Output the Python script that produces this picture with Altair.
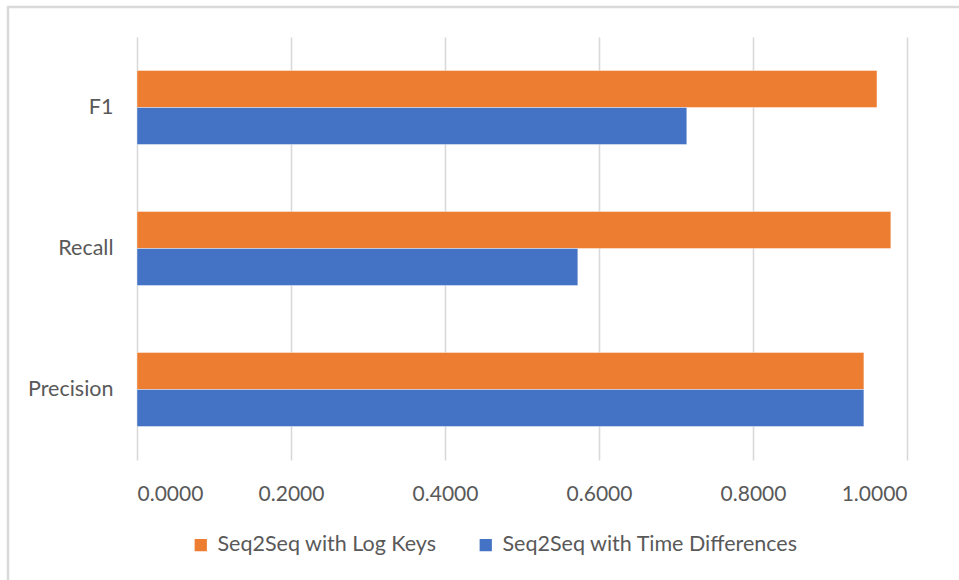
import altair as alt
import pandas as pd

categories = ["F1", "Recall", "Precision"]
series = ["Seq2Seq with Log Keys", "Seq2Seq with Time Differences"]
log_keys = [0.961, 0.979, 0.944]
time_diff = [0.714, 0.5725, 0.944]
colors = ["#ED7D31", "#4472C4"]
x_ticks = [0.0, 0.2, 0.4, 0.6, 0.8, 1.0]

rows = []
for c, a, b in zip(categories, log_keys, time_diff):
    rows.append({"metric": c, "series": series[0], "value": a})
    rows.append({"metric": c, "series": series[1], "value": b})
df = pd.DataFrame(rows)

W, H = 770, 423
FONT = "Lato"

bars = alt.Chart(df).mark_bar(
    stroke="white", strokeWidth=0.8, strokeOpacity=0.5
).encode(
    x=alt.X("value:Q", scale=alt.Scale(domain=[0, 1], nice=False),
            axis=alt.Axis(values=x_ticks, format=".4f", title=None, domain=False,
                          ticks=False, grid=True, gridColor="#d9d9d9", gridWidth=1.6,
                          labelFont=FONT, labelFontSize=21, labelColor="#595959",
                          labelPadding=23)),
    y=alt.Y("metric:N", sort=categories,
            scale=alt.Scale(paddingInner=0.475, paddingOuter=0.2375),
            axis=alt.Axis(title=None, domain=False, ticks=False, grid=False,
                          labelFont=FONT, labelFontSize=21.5, labelColor="#595959",
                          labelPadding=24, labelLimit=0)),
    yOffset=alt.YOffset("series:N", sort=series),
    color=alt.Color("series:N", sort=series,
                    scale=alt.Scale(domain=series, range=colors),
                    legend=alt.Legend(title=None, orient="none", direction="horizontal",
                                      legendX=53, legendY=497,
                                      symbolType="square", symbolSize=150,
                                      symbolStrokeWidth=0, symbolOpacity=1,
                                      labelFont=FONT, labelFontSize=21.5, labelColor="#595959",
                                      labelOffset=6, labelLimit=0, columnPadding=38)),
)

frame = alt.Chart(pd.DataFrame({"k": [0]})).mark_rect(
    fill=None, stroke="#d9d9d9", strokeWidth=2.5
).encode(
    x=alt.value(-129), x2=alt.value(W + 80),
    y=alt.value(-30), y2=alt.value(H + 160),
)

chart = alt.layer(frame, bars).properties(
    width=W, height=H,
    padding={"left": 137, "top": 37, "right": 52, "bottom": 120},
    autosize=alt.AutoSizeParams(type="none"),
    background="white",
).configure_view(stroke=None)

chart.save("out.html", embed_options={"renderer": "svg", "actions": False})
